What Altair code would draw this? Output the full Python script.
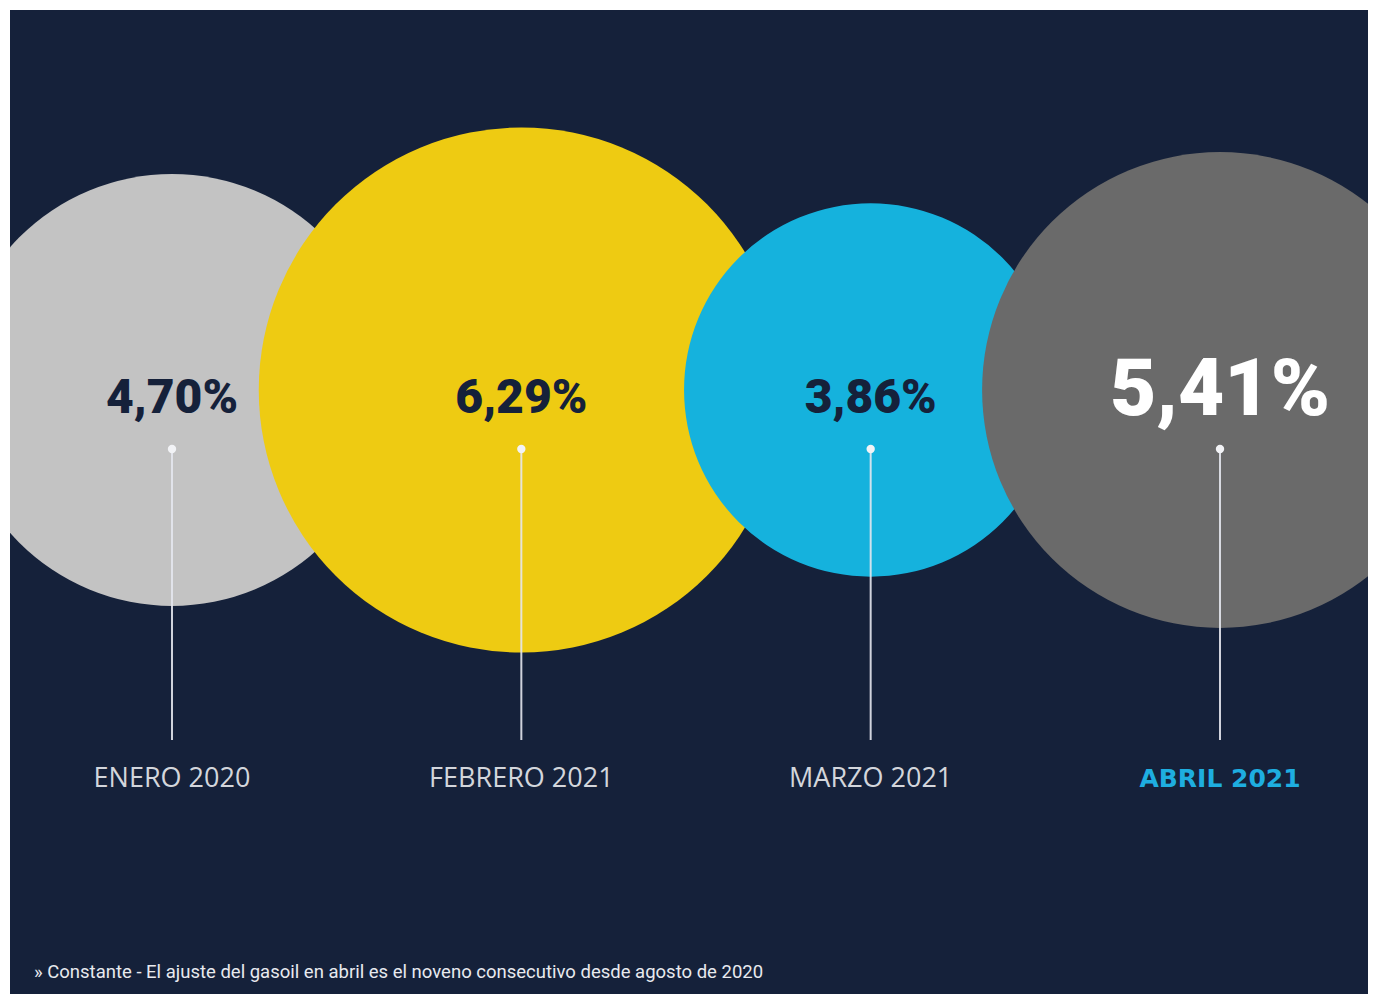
import altair as alt
import pandas as pd

# ---- data ----
meses = ["ENERO 2020", "FEBRERO 2021", "MARZO 2021", "ABRIL 2021"]
valores = [4.70, 6.29, 3.86, 5.41]
colores = ["#c3c3c3", "#eecb12", "#15b2dd", "#6a6a6a"]
destacado = "ABRIL 2021"
nota = "» Constante - El ajuste del gasoil en abril es el noveno consecutivo desde agosto de 2020"

df = pd.DataFrame({
    "mes": meses,
    "valor": valores,
    "etiqueta": [f"{v:.2f}".replace(".", ",") + "%" for v in valores],
})

NAVY = "#15213a"
W, H = 1358, 984

x_enc = alt.X("mes:N", sort=meses, axis=None,
              scale=alt.Scale(type="point", range=[162, 1210], padding=0))
is_hl = f"datum.mes === '{destacado}'"
not_hl = f"datum.mes !== '{destacado}'"

base = alt.Chart(df)

circles = base.mark_circle(opacity=1, clip=True).encode(
    x=x_enc,
    y=alt.value(380),
    size=alt.Size("valor:Q", legend=None,
                  scale=alt.Scale(domain=[3.86, 6.29], range=[139300, 275800])),
    color=alt.Color("mes:N", legend=None,
                    scale=alt.Scale(domain=meses, range=colores)),
)

rules = base.mark_rule(color="#e4e7ee", strokeWidth=2, opacity=0.9).encode(
    x=x_enc, y=alt.value(439), y2=alt.value(730)
)

dots = base.mark_circle(color="#f2f3f6", opacity=1, size=70).encode(
    x=x_enc, y=alt.value(439)
)

values_norm = base.transform_filter(not_hl).mark_text(
    font="Roboto", fontWeight=900, fontSize=48,
    align="center", baseline="alphabetic", color=NAVY
).encode(x=x_enc, y=alt.value(403), text="etiqueta:N")

values_hl = base.transform_filter(is_hl).mark_text(
    font="Roboto", fontWeight=900, fontSize=80,
    align="center", baseline="alphabetic", color="#ffffff"
).encode(x=x_enc, y=alt.value(405), text="etiqueta:N")

labels_norm = base.transform_filter(not_hl).mark_text(
    font="Open Sans", fontSize=27, align="center", baseline="alphabetic",
    color="#d3d6dc"
).encode(x=x_enc, y=alt.value(777), text="mes:N")

labels_hl = base.transform_filter(is_hl).mark_text(
    font="DejaVu Sans", fontSize=25, fontWeight="bold", align="center",
    baseline="alphabetic", color="#1eaee0"
).encode(x=x_enc, y=alt.value(777), text="mes:N")

footer = alt.Chart(pd.DataFrame({"t": [nota]})).mark_text(
    font="Roboto", fontSize=18.5, align="left", baseline="alphabetic",
    color="#e8eaef"
).encode(x=alt.value(24), y=alt.value(968), text="t:N")

chart = alt.layer(circles, rules, dots, values_norm, values_hl,
                  labels_norm, labels_hl, footer).properties(
    width=W, height=H,
    background="#ffffff",
    padding={"left": 2, "top": 2, "right": 0, "bottom": 0},
    autosize=alt.AutoSizeParams(type="none"),
).configure_view(fill=NAVY, stroke=None)

chart.save("out.html", embed_options={"renderer": "svg", "actions": False})
